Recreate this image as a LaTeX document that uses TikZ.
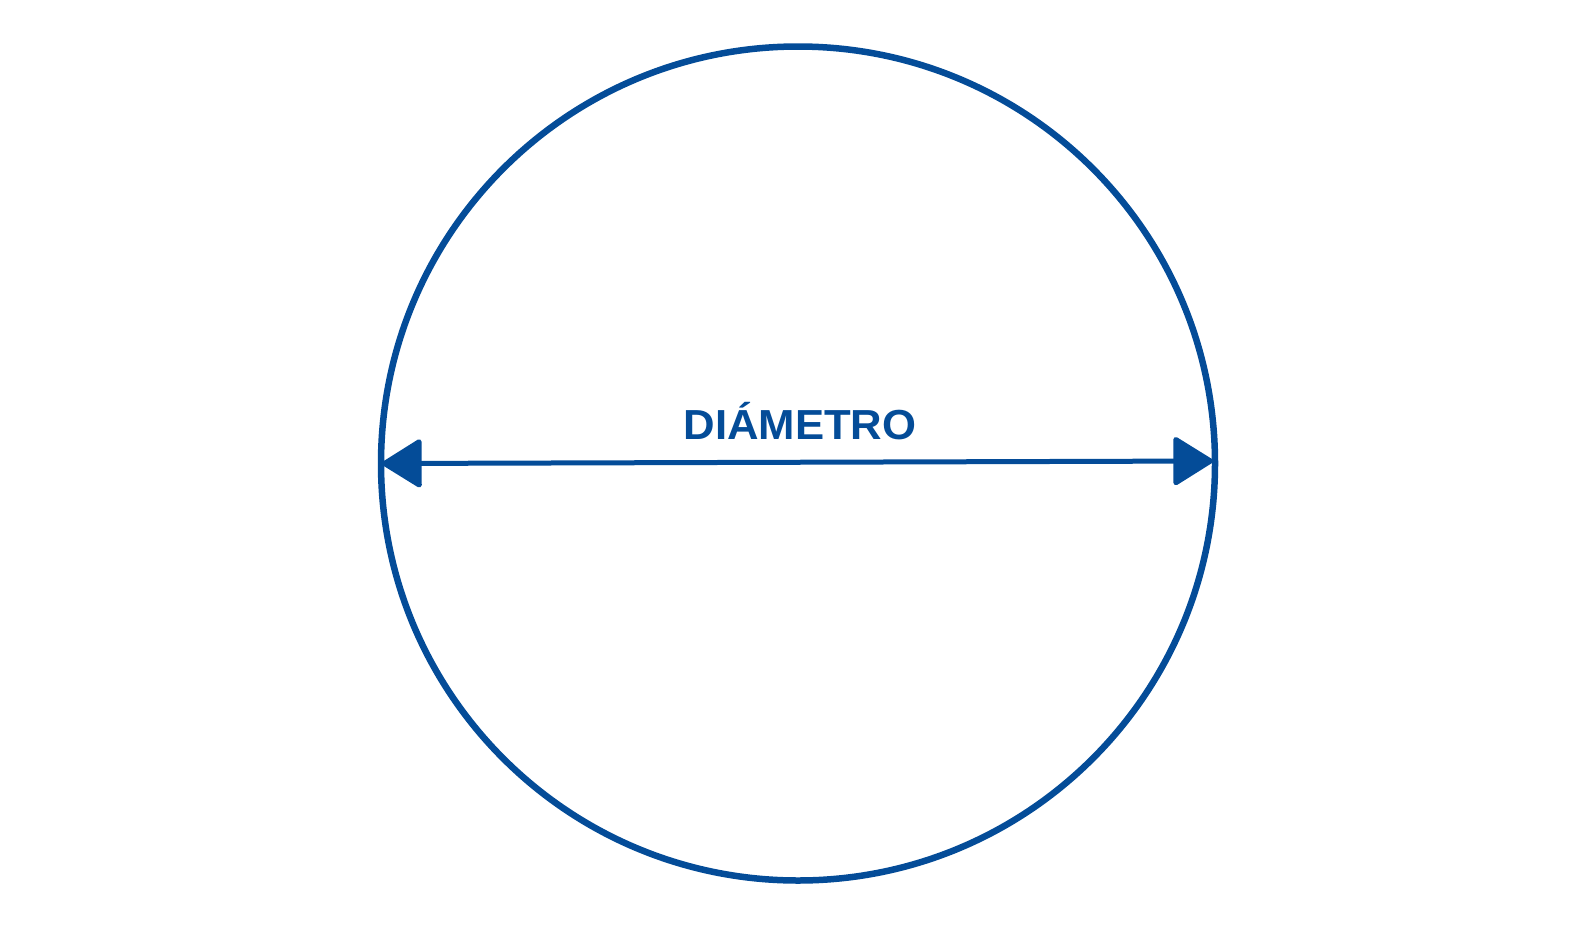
\documentclass[tikz,border=0pt]{standalone}
\usepackage{fontspec}
\setmainfont{Liberation Sans}
\usetikzlibrary{arrows.meta}
\definecolor{dblue}{RGB}{4,76,152}
\tikzset{
  ring/.style={circle, draw=dblue, line width=6.5pt, minimum size=834pt, inner sep=0pt},
  lbl/.style={font=\bfseries\fontsize{42pt}{42pt}\selectfont, text=dblue, inner sep=0pt},
  dimarrow/.style={draw=dblue, line width=5pt, {Triangle[length=42pt,width=51pt,round]}-{Triangle[length=42pt,width=51pt,round]}}
}
\begin{document}
\begin{tikzpicture}[x=1pt,y=-1pt]
\useasboundingbox (0,0) rectangle (1592,924);
\node[ring] (c) at (798,463.5) {};
\coordinate (l) at (382,463.5);
\coordinate (r) at (1213,461);
\draw[dimarrow] (l) -- (r);
\node[lbl, anchor=base] (t) at (800,439.5) {\scalebox{1.04}[1]{DIÁMETRO}};
\end{tikzpicture}
\end{document}
